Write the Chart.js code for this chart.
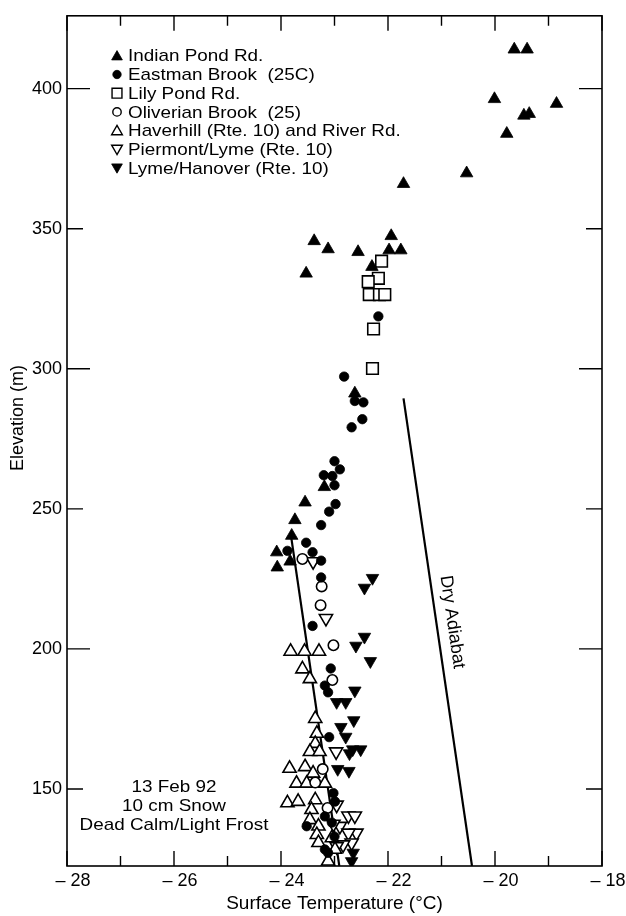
<!DOCTYPE html>
<html>
<head>
<meta charset="utf-8">
<script src="https://cdn.jsdelivr.net/npm/chart.js@4.4.1/dist/chart.umd.min.js"></script>
<style>
  html, body { margin: 0; padding: 0; background: #fff; }
  #wrap { width: 626px; height: 916px; position: relative; }
</style>
</head>
<body>
<div id="wrap"><canvas id="chart"></canvas></div>
<script>
const FONT = '"Liberation Sans", Arial, Helvetica, sans-serif';

// axis ticks
const X_TICKS = [-28, -27, -26, -25, -24, -23, -22, -21, -20, -19, -18];
const X_LABELED = [-28, -26, -24, -22, -20, -18];
const Y_TICKS = [150, 200, 250, 300, 350, 400];

// surface temperature (°C) / elevation (m)
const INDIAN_POND_T = [-19.64, -19.40, -20.01, -18.85, -19.46, -19.36, -19.78, -20.53, -21.71, -21.94, -22.56, -21.98, -21.76, -22.30, -23.38, -23.12, -23.53, -22.62, -23.19, -23.55, -23.74, -23.80, -24.08, -23.83, -24.07];
const INDIAN_POND_E = [414, 414, 396.3, 394.6, 390.4, 391, 383.9, 369.8, 366, 347.4, 341.7, 342.3, 342.3, 336.4, 345.6, 342.7, 334, 291.2, 257.8, 252.3, 246, 240.4, 234.5, 231.2, 229.1];

const EASTMAN_T = [-22.18, -22.82, -22.62, -22.46, -22.48, -22.68, -23.00, -22.90, -23.20, -23.04, -23.00, -22.98, -23.10, -23.25, -23.53, -23.88, -23.41, -23.25, -23.25, -23.41, -23.07, -23.18, -23.12, -23.10, -23.02, -22.99, -23.18, -23.52, -23.05, -23.00, -23.18, -23.12];
const EASTMAN_E = [318.7, 297.2, 288.5, 288, 282, 279.1, 267, 264.1, 262, 261.7, 258.4, 251.7, 249, 244.2, 237.9, 235, 234.5, 231.5, 225.5, 208.2, 193, 186.9, 184.5, 168.5, 148.5, 145.5, 140.2, 136.7, 138, 133, 128.4, 127.2];

const LILY_POND_T = [-22.12, -22.18, -22.37, -22.35, -22.16, -22.06, -22.27, -22.29];
const LILY_POND_E = [338.4, 332.3, 331.1, 326.5, 326.5, 326.5, 314.2, 300.1];

const OLIVERIAN_T = [-23.60, -23.24, -23.26, -23.02, -23.04, -23.22, -23.36, -23.13];
const OLIVERIAN_E = [232.1, 222.3, 215.6, 201.3, 188.9, 157.1, 152.3, 143.2];

const HAVERHILL_T = [-23.82, -23.56, -23.29, -23.60, -23.46, -23.36, -23.33, -23.36, -23.46, -23.28, -23.84, -23.55, -23.40, -23.71, -23.52, -23.18, -23.88, -23.68, -23.36, -23.43, -23.46, -23.30, -23.33, -23.05, -23.30, -23.12, -22.99];
const HAVERHILL_E = [199.1, 199.1, 199.1, 192.8, 189.3, 175.1, 169.8, 166.2, 163.3, 163.3, 157.3, 157.9, 155.6, 152, 152, 152, 145, 145.5, 146.1, 142.6, 139, 136.7, 133.7, 132.5, 130.8, 124.2, 128.4];

const PIERMONT_T = [-23.40, -23.16, -22.97, -22.96, -22.74, -22.62, -22.90, -22.59, -22.74, -22.68, -22.84, -22.96, -23.02];
const PIERMONT_E = [231.2, 210.9, 163.3, 144.3, 140.4, 140.4, 136.7, 134.3, 134.3, 130.8, 130.1, 129.5, 137.5];

const LYME_HANOVER_T = [-22.29, -22.44, -22.44, -22.60, -22.33, -22.62, -22.96, -22.79, -22.64, -22.88, -22.79, -22.66, -22.51, -22.72, -22.94, -22.73, -22.65, -22.68];
const LYME_HANOVER_E = [225.3, 221.8, 204.3, 201.1, 195.6, 185.1, 181, 181, 174.5, 172.1, 168.6, 164.1, 164.1, 162.7, 157.1, 156.4, 127.2, 124.2];

// straight lines
const FIT_LINE_T = [-23.81, -22.91];
const FIT_LINE_E = [240, 122.5];
const ADIABAT_T = [-21.71, -20.43];
const ADIABAT_E = [289.4, 122.5];

const NOTE_LINES = ['13 Feb 92', '10 cm Snow', 'Dead Calm/Light Frost'];

const pts = (xs, ys) => xs.map((x, i) => ({ x, y: ys[i] }));

const MARKERS = [
  { label: 'Indian Pond Rd.', t: INDIAN_POND_T, e: INDIAN_POND_E, style: 'triangle', rot: 0, filled: true, r: 7.2 },
  { label: 'Eastman Brook  (25C)', t: EASTMAN_T, e: EASTMAN_E, style: 'circle', rot: 0, filled: true, r: 4.7 },
  { label: 'Lily Pond Rd.', t: LILY_POND_T, e: LILY_POND_E, style: 'rect', rot: 0, filled: false, r: 8.2 },
  { label: 'Oliverian Brook  (25)', t: OLIVERIAN_T, e: OLIVERIAN_E, style: 'circle', rot: 0, filled: false, r: 5.2 },
  { label: 'Haverhill (Rte. 10) and River Rd.', t: HAVERHILL_T, e: HAVERHILL_E, style: 'triangle', rot: 0, filled: false, r: 7.6 },
  { label: 'Piermont/Lyme (Rte. 10)', t: PIERMONT_T, e: PIERMONT_E, style: 'triangle', rot: 180, filled: false, r: 7.6 },
  { label: 'Lyme/Hanover (Rte. 10)', t: LYME_HANOVER_T, e: LYME_HANOVER_E, style: 'triangle', rot: 180, filled: true, r: 7.2 }
];

const datasets = MARKERS.map((m) => ({
  label: m.label,
  data: pts(m.t, m.e),
  pointStyle: m.style,
  rotation: m.rot,
  pointRadius: m.r,
  pointBackgroundColor: m.filled ? '#000' : '#fff',
  pointBorderColor: '#000',
  pointBorderWidth: m.filled ? 0.8 : 1.6,
  showLine: false
}));

[[FIT_LINE_T, FIT_LINE_E], [ADIABAT_T, ADIABAT_E]].forEach(([t, e]) => {
  datasets.push({
    data: pts(t, e),
    showLine: true,
    borderColor: '#000',
    borderWidth: 2.2,
    pointRadius: 0,
    fill: false,
    order: 10
  });
});

// text in the scanned figure is a bit wider than Liberation Sans
const TEXT_STRETCH = 1.11;

function wideText(ctx, text, x, y, align) {
  const w = ctx.measureText(text).width * TEXT_STRETCH;
  const left = align === 'center' ? x - w / 2 : x;
  ctx.save();
  ctx.textAlign = 'left';
  ctx.translate(left, y);
  ctx.scale(TEXT_STRETCH, 1);
  ctx.fillText(text, 0, 0);
  ctx.restore();
}

const frameTicksPlugin = {
  id: 'frameTicks',
  afterDatasetsDraw(chart) {
    const { ctx, chartArea: a, scales: { x, y } } = chart;
    ctx.save();
    ctx.strokeStyle = '#000';
    ctx.lineWidth = 1.6;
    ctx.strokeRect(a.left, a.top, a.right - a.left, a.bottom - a.top);
    ctx.lineWidth = 1.4;
    ctx.beginPath();
    X_TICKS.forEach((v) => {
      const px = x.getPixelForValue(v);
      const len = X_LABELED.includes(v) ? 15 : 10;
      ctx.moveTo(px, a.bottom); ctx.lineTo(px, a.bottom - len);
      ctx.moveTo(px, a.top); ctx.lineTo(px, a.top + len);
    });
    Y_TICKS.forEach((v) => {
      const py = y.getPixelForValue(v);
      const len = v % 100 === 0 ? 23 : 16;
      ctx.moveTo(a.left, py); ctx.lineTo(a.left + len, py);
      ctx.moveTo(a.right, py); ctx.lineTo(a.right - len, py);
    });
    ctx.stroke();
    ctx.restore();
  }
};

const notesPlugin = {
  id: 'notes',
  afterDraw(chart) {
    const { ctx, chartArea: a, scales: { x, y } } = chart;
    const helpers = Chart.helpers;
    ctx.save();
    ctx.fillStyle = '#000';
    ctx.textBaseline = 'middle';

    // legend, top-left inside the frame
    ctx.font = `17px ${FONT}`;
    MARKERS.forEach((m, i) => {
      const cy = a.top + 40 + i * 18.7;
      const cx = a.left + 50;
      ctx.save();
      ctx.fillStyle = m.filled ? '#000' : '#fff';
      ctx.strokeStyle = '#000';
      ctx.lineWidth = m.filled ? 0.8 : 1.4;
      const rad = m.style === 'circle' ? 4.2 : m.style === 'rect' ? 7 : 6.2;
      helpers.drawPoint(ctx, { pointStyle: m.style, rotation: m.rot, radius: rad, borderWidth: ctx.lineWidth }, cx, cy + (m.style === 'triangle' ? (m.rot ? -1 : 1) : 0));
      ctx.restore();
      wideText(ctx, m.label, cx + 11, cy + 1, 'left');
    });

    // conditions note
    const nx = x.getPixelForValue(-26);
    const ny = y.getPixelForValue(150.7);
    NOTE_LINES.forEach((line, i) => wideText(ctx, line, nx, ny + i * 19, 'center'));

    // rotated y-axis title
    ctx.save();
    ctx.font = `18px ${FONT}`;
    ctx.textAlign = 'center';
    ctx.translate(18, 418);
    ctx.rotate(-Math.PI / 2);
    ctx.fillText('Elevation (m)', 0, 0);
    ctx.restore();

    // label along the dry adiabat
    const p0 = { x: x.getPixelForValue(ADIABAT_T[0]), y: y.getPixelForValue(ADIABAT_E[0]) };
    const p1 = { x: x.getPixelForValue(ADIABAT_T[1]), y: y.getPixelForValue(ADIABAT_E[1]) };
    const ang = Math.atan2(p1.y - p0.y, p1.x - p0.x);
    ctx.translate(x.getPixelForValue(-20.8), y.getPixelForValue(209.6));
    ctx.rotate(ang);
    ctx.font = `18px ${FONT}`;
    ctx.textAlign = 'center';
    ctx.fillText('Dry Adiabat', 0, 0);
    ctx.restore();
  }
};

new Chart(document.getElementById('chart'), {
  type: 'scatter',
  data: { datasets },
  options: {
    responsive: true,
    maintainAspectRatio: false,
    animation: false,
    events: [],
    layout: { padding: { top: 10, right: 24, left: 0, bottom: 0 } },
    plugins: { legend: { display: false }, tooltip: { enabled: false } },
    scales: {
      x: {
        type: 'linear',
        min: -28,
        max: -18,
        afterBuildTicks: (s) => { s.ticks = X_TICKS.map((v) => ({ value: v })); },
        afterFit: (s) => { s.height = 50; },
        grid: { display: false, drawTicks: false },
        border: { display: false },
        ticks: {
          autoSkip: false,
          maxRotation: 0,
          padding: 4,
          labelOffset: 6,
          color: '#000',
          font: { family: FONT, size: 18 },
          callback: (v) => (X_LABELED.includes(v) ? '\u2013 ' + Math.abs(v) : '')
        },
        title: {
          display: true,
          text: 'Surface Temperature (°C)',
          color: '#000',
          font: { family: FONT, size: 19 },
          padding: { top: 0, bottom: 1 }
        }
      },
      y: {
        type: 'linear',
        min: 122.5,
        max: 426,
        afterBuildTicks: (s) => { s.ticks = Y_TICKS.map((v) => ({ value: v })); },
        afterFit: (s) => { s.width = 67; },
        grid: { display: false, drawTicks: false },
        border: { display: false },
        ticks: {
          padding: 5,
          color: '#000',
          font: { family: FONT, size: 18 }
        },
        title: { display: false }
      }
    }
  },
  plugins: [frameTicksPlugin, notesPlugin]
});
</script>
</body>
</html>
